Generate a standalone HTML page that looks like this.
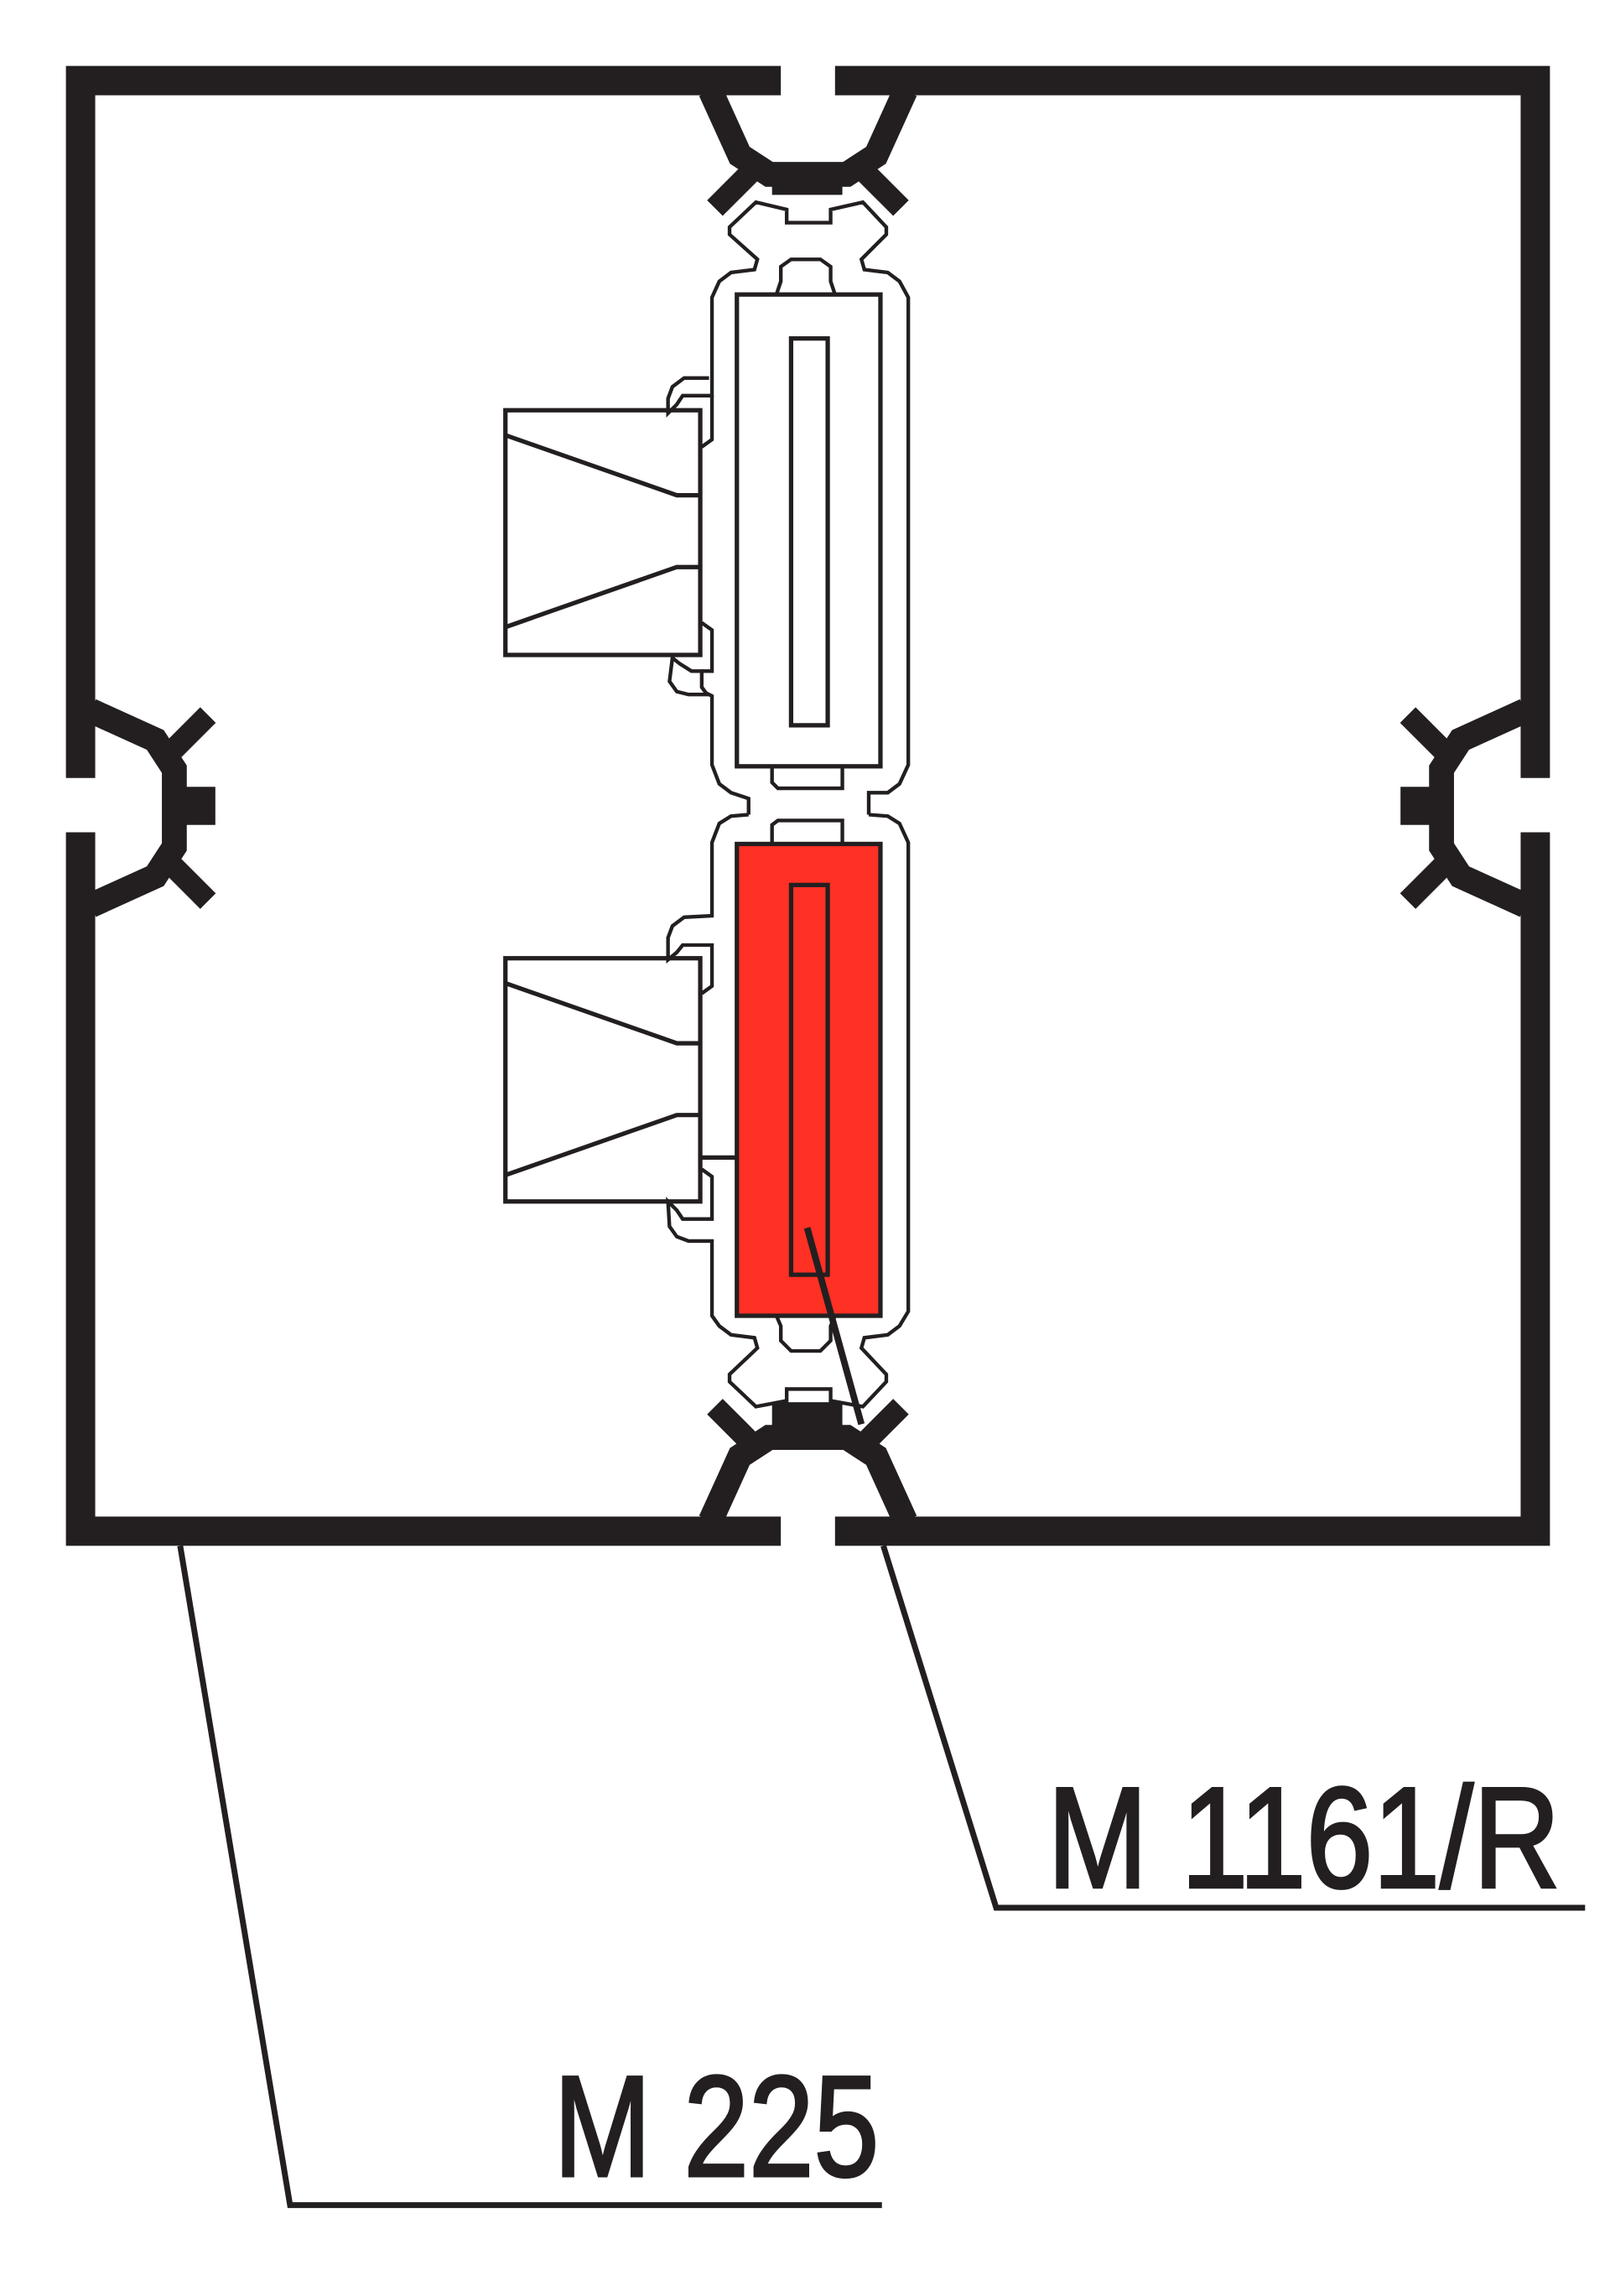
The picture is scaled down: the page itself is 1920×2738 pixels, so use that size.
<!DOCTYPE html>
<html><head><meta charset="utf-8"><style>html,body{margin:0;padding:0;background:#fff}svg{display:block}</style></head>
<body>
<svg width="1920" height="2738" viewBox="0 0 1099 1567" preserveAspectRatio="none" xmlns="http://www.w3.org/2000/svg">
<rect width="1110" height="1583" fill="#fff"/>
<g stroke="#231f20" fill="none" stroke-linejoin="miter">
<g stroke-width="20">
<polyline points="55,531 55,55 533,55"/>
<polyline points="570,55 1048,55 1048,531"/>
<polyline points="55,568 55,1045 533,1045"/>
<polyline points="570,1045 1048,1045 1048,568"/>
</g>
<g stroke-width="17">
<polyline points="485,62 505,106 525,119 578,119 598,106 618,62"/>
<polyline points="485,1038 505,994 525,981 578,981 598,994 618,1038"/>
<polyline points="62,485 106,505 119,525 119,578 106,598 62,618"/>
<polyline points="1041,485 997,505 984,525 984,578 997,598 1041,618"/>
</g>
<g stroke-width="15">
<line x1="488" y1="142" x2="512" y2="118"/><line x1="615" y1="142" x2="591" y2="118"/>
<line x1="488" y1="960" x2="512" y2="984"/><line x1="615" y1="960" x2="591" y2="984"/>
<line x1="142" y1="488" x2="118" y2="512"/><line x1="142" y1="615" x2="118" y2="591"/>
<line x1="961" y1="488" x2="985" y2="512"/><line x1="961" y1="615" x2="985" y2="591"/>
</g>
<g fill="#231f20" stroke="none">
<rect x="527" y="111" width="48" height="22"/>
<rect x="527" y="957" width="48" height="22"/>
<rect x="126" y="537" width="21" height="26"/>
<rect x="956" y="537" width="21" height="26"/>
</g>
<g stroke-width="2.5">
<path d="M511,556 L511,545 L499,541 L491,535 L486,522 L486,475 L482,473 L479,469 L479,458 L472,458 L464,453 L459,449 L457,465 L462,472 L470,474 L484,474 M484,258 L467,258 L459,264 L456,272 L456,282 L462,276 L466,270 L486,270 L486,255 M486,258 L486,203 L491,192 L499,186 L515,184 L517,177 L498,160 L498,155 L516,138 L537,143 L537,152 L567,152 L567,143 L589,138 L605,155 L605,160 L588,177 L590,184 L606,186 L614,192 L620,203 L620,522 L614,535 L606,541 L593,541 L593,556"/>
<path d="M486,270 L486,300 L479,305 M479,425 L486,430 L486,458 L479,458"/>
<path d="M530,201 L533,192 L533,182 L540,177 L560,177 L567,182 L567,192 L570,201"/>
<path d="M527,523 L527,534 L531,538 L575,538 L575,523"/>
<path d="M511,556 L499,557 L491,562 L486,575 L486,625 L467,626 L459,632 L456,640 L456,655 L462,650 L466,645 L486,645 L486,673 L479,678 M479,798 L486,803 L486,832 L466,832 L462,826 L456,820 L457,837 L462,844 L470,847 L486,847 L486,898 L491,905 L499,911 L515,913 L517,920 L498,938 L498,943 L516,960 L537,956 L537,948 L567,948 L567,956 L589,960 L605,943 L605,938 L588,920 L590,913 L606,911 L614,905 L620,895 L620,575 L614,562 L606,557 L593,556"/>
<path d="M527,576 L527,563 L531,560 L575,560 L575,576"/>
<path d="M530,898 L533,905 L533,915 L540,922 L560,922 L567,915 L567,905 L570,898"/>
</g>
<g stroke-width="3">
<rect x="503" y="201" width="98" height="322"/>
<rect x="540" y="231" width="25" height="264"/>
<rect x="345" y="280" width="133" height="167"/>
<polyline points="345,297 462,338 478,338"/>
<polyline points="345,428 462,387 478,387"/>
<rect x="503" y="576" width="98" height="322" fill="#ff3024"/>
<rect x="540" y="604" width="25" height="266"/>
<rect x="345" y="654" width="133" height="166"/>
<polyline points="345,671 462,712 478,712"/>
<polyline points="345,802 462,761 478,761"/>
<line x1="478" y1="790" x2="503" y2="790"/>
</g>
<line x1="551" y1="838" x2="588" y2="972" stroke-width="4.5"/>
<polyline points="603,1055 680,1302 1082,1302" stroke-width="4"/>
<polyline points="123,1055 198,1505 602,1505" stroke-width="4"/>
</g>
<g fill="#231f20" stroke="#231f20" stroke-width="2" font-family="'Liberation Sans',sans-serif" font-size="98">
<text x="715" y="1288" textLength="350" lengthAdjust="spacingAndGlyphs">M 1161/R</text>
<text x="378" y="1485" textLength="222" lengthAdjust="spacingAndGlyphs">M 225</text>
</g>
</svg>
</body></html>
